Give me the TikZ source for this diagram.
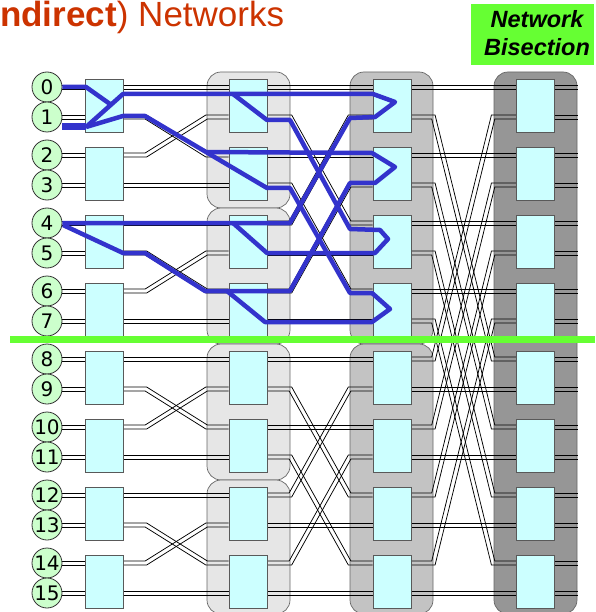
\documentclass[tikz,border=0pt]{standalone}
\usepackage{fontspec}
\setmainfont{Liberation Sans}
\newfontfamily\numfont{DejaVu Sans}
\usetikzlibrary{calc}
\definecolor{titlecol}{RGB}{204,51,0}
\definecolor{bisgreen}{RGB}{102,255,51}
\definecolor{swfill}{RGB}{204,255,255}
\definecolor{nodefill}{RGB}{204,255,204}
\definecolor{pathblue}{RGB}{51,51,204}
\definecolor{bgA}{RGB}{230,230,230}
\definecolor{bgB}{RGB}{195,195,195}
\definecolor{bgC}{RGB}{150,150,150}
\pgfdeclarelayer{bgl}
\pgfdeclarelayer{wirel}
\pgfdeclarelayer{topl}
\pgfsetlayers{bgl,wirel,main,topl}
\def\dl{2.1}
\begin{document}
\begin{tikzpicture}[x=1pt,y=-1pt,
  wl/.style={line width=0.75pt,draw=black,line join=miter},
  swbox/.style={draw=black!65,fill=swfill,line width=0.8pt,minimum width=38pt,minimum height=53pt,inner sep=0pt},
  pe/.style={circle,draw=black!80,fill=nodefill,line width=0.8pt,minimum size=30pt,inner sep=0pt,font=\numfont\fontsize{20}{22}\selectfont},
  bgbox/.style={draw=black!60,line width=0.7pt,rounded corners=14pt},
  hl/.style={draw=pathblue,line width=4.5pt,line join=round}]
\useasboundingbox (0,0) rectangle (595,612);

% title
\node[anchor=base west,inner sep=0pt,text=titlecol,font=\fontsize{35}{40}\selectfont] (title) at (0,27) {\textbf{ndirect}) Networks};
\node[fill=bisgreen,minimum width=123pt,minimum height=61pt,inner sep=0pt] (bisbox) at (532.5,34.5) {};
\node[anchor=base,inner sep=0pt,font=\bfseries\itshape\fontsize{23.5}{28}\selectfont] (bis1) at (537,28) {Network};
\node[anchor=base,inner sep=0pt,font=\bfseries\itshape\fontsize{23.5}{28}\selectfont] (bis2) at (537,56) {Bisection};

% backgrounds
\begin{pgfonlayer}{bgl}
\foreach \g in {0,1,2} \draw[bgbox,fill=bgA] (207,{72+136*\g}) rectangle (290,{208+136*\g});
\draw[bgbox,fill=bgA] (207,480) rectangle (290,614);
\draw[bgbox,fill=bgB] (350,72) rectangle (433,344);
\draw[bgbox,fill=bgB] (350,344) rectangle (433,614);
\draw[bgbox,fill=bgC] (494,72) rectangle (577,614);
\end{pgfonlayer}

% switches
\foreach \k in {0,...,7} {
  \node[swbox] (s1-\k) at (104.5,{105.5+68*\k}) {};
  \node[swbox] (s2-\k) at (248,{105.5+68*\k}) {};
  \node[swbox] (s3-\k) at (392,{105.5+68*\k}) {};
  \node[swbox] (s4-\k) at (535.5,{105.5+68*\k}) {};
}
% processors
\foreach \i in {0,...,15} {
  \pgfmathtruncatemacro\pA{int(\i/2)}
  \pgfmathtruncatemacro\bt{mod(\i,2)}
  \node[pe] (n\i) at (47,{87+68*\pA+30*\bt}) {\i};
}

% wires (pairs of thin parallel lines)
\begin{pgfonlayer}{wirel}
\foreach \i in {0,...,15} {
  \pgfmathtruncatemacro\pA{int(\i/2)}
  \foreach \s in {-1,1} {
    \draw[wl] ($(n\i.center)+(0,{(\s)*\dl})$) -- ($(s1-\pA.west |- n\i.center)+(0,{(\s)*\dl})$);
    \draw[wl] ($(s4-\pA.east |- n\i.center)+(0,{(\s)*\dl})$) -- ++(23,0);
  }
}
\foreach \a/\b/\dist/\ex/\en/\ddx in {1/2/1/22/22/61.5,2/3/2/23/23/60,3/4/4/22/23/60.5} {
  \foreach \i in {0,...,15} {
    \pgfmathtruncatemacro\pA{int(\i/2)}
    \pgfmathtruncatemacro\bt{mod(\i,2)}
    \pgfmathtruncatemacro\ps{mod(\pA,2*\dist)}
    \ifnum\bt=0
      \ifnum\ps<\dist
        \xdef\qB{\pA}\xdef\jB{\i}
      \else
        \pgfmathtruncatemacro\qq{\pA-\dist}\pgfmathtruncatemacro\jj{2*\qq+1}
        \xdef\qB{\qq}\xdef\jB{\jj}
      \fi
    \else
      \ifnum\ps<\dist
        \pgfmathtruncatemacro\qq{\pA+\dist}\pgfmathtruncatemacro\jj{2*\qq}
        \xdef\qB{\qq}\xdef\jB{\jj}
      \else
        \xdef\qB{\pA}\xdef\jB{\i}
      \fi
    \fi
    \ifnum\jB=\i
      \foreach \s in {-1,1}
        \draw[wl] ($(s\a-\pA.east |- n\i.center)+(0,{(\s)*\dl})$) -- ($(s\b-\pA.west |- n\i.center)+(0,{(\s)*\dl})$);
    \else
      \pgfmathsetmacro\ya{87+68*int(\i/2)+30*mod(\i,2)}
      \pgfmathsetmacro\yb{87+68*int(\jB/2)+30*mod(\jB,2)}
      \pgfmathsetmacro\dyy{(\yb-\ya)/10}
      \pgfmathsetmacro\dxx{\ddx/10}
      \pgfmathsetmacro\LL{10*sqrt(\dxx*\dxx+\dyy*\dyy)}
      \pgfmathsetmacro\kk{\dl*(\ddx-\LL)/(\yb-\ya)}
      \foreach \s in {-1,1}
        \draw[wl] ($(s\a-\pA.east |- n\i.center)+(0,{(\s)*\dl})$) -- ++({\ex+(\s)*(\kk)},0)
          -- ($(s\b-\qB.west |- n\jB.center)+({-\en+(\s)*(\kk)},{(\s)*\dl})$)
          -- ($(s\b-\qB.west |- n\jB.center)+(0,{(\s)*\dl})$);
    \fi
  }
}
\end{pgfonlayer}

% highlighted paths
\begin{pgfonlayer}{topl}
\draw[hl] (n0.east) -- (86,87) -- (110,104);
\draw[hl,line width=7pt] (62,127) -- (86,127);
\draw[hl] (86,127) -- (123,94) -- (373,94) -- (395,102) -- (375,117) -- (350,118) -- (290,223) -- (n4.east);
\draw[hl] (86,127) -- (123,116) -- (145,116) -- (267,188) -- (290,188) -- (350,293) -- (372,293) -- (390,309) -- (372,322) -- (265,322) -- (227,291);
\draw[hl] (233,94) -- (267,120) -- (290,120) -- (350,229) -- (380,230) -- (388,239) -- (375,253) -- (267,253) -- (233,223);
\draw[hl] (207,152) -- (372,153) -- (395,167) -- (375,183) -- (350,183) -- (290,291) -- (205,291) -- (145,253) -- (123,253) -- (63,225);
\draw[bisgreen,line width=7pt] (10,339.5) -- (595,339.5);
\end{pgfonlayer}
\end{tikzpicture}
\end{document}
